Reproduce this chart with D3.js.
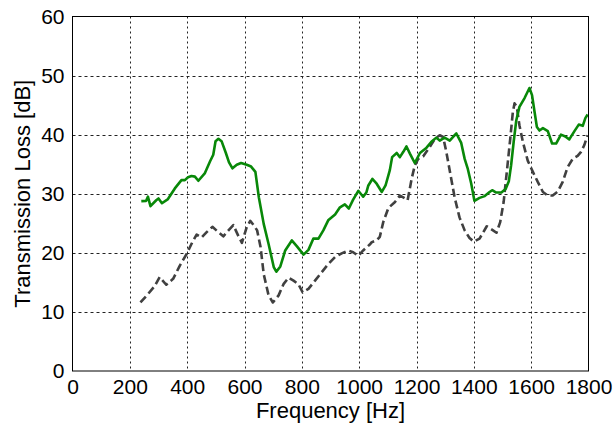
<!DOCTYPE html>
<html><head><meta charset="utf-8">
<script src="https://cdn.jsdelivr.net/npm/d3@7"></script>
<style>
html,body{margin:0;padding:0;background:#fff;}
text{font-family:Arial,"Liberation Sans",sans-serif;fill:#000;}
</style></head>
<body><svg id="chart" width="614" height="427"></svg>
<script>
const xTicks = [0,200,400,600,800,1000,1200,1400,1600,1800];
const yTicks = [0,10,20,30,40,50,60];
const xLabel = "Frequency [Hz]";
const yLabel = "Transmission Loss [dB]";

const greenFreq = [240,257,263,272,292,300,312,333,357,380,392,403,415,427,439,462,480,491,499,509,520,535,546,558,573,588,608,623,638,650,667,684,702,711,725,742,765,783,806,823,840,858,875,892,916,933,950,964,979,997,1014,1025,1032,1046,1061,1079,1092,1107,1115,1131,1142,1154,1165,1177,1194,1212,1235,1252,1269,1281,1298,1316,1327,1339,1356,1368,1379,1391,1402,1420,1438,1455,1464,1478,1496,1511,1522,1530,1539,1548,1559,1577,1594,1603,1612,1620,1629,1641,1658,1673,1687,1704,1719,1733,1751,1766,1780,1789,1797];
const greenTL = [28.75,28.8,29.5,27.9,28.9,29.2,28.4,29.1,30.9,32.3,32.3,32.8,33.0,32.9,32.2,33.5,35.5,36.6,38.9,39.3,38.9,36.9,35.3,34.3,34.9,35.2,34.9,34.6,33.7,29.4,24.9,21.5,17.6,16.8,17.7,20.4,22.1,21.1,19.7,20.5,22.4,22.4,23.8,25.5,26.5,27.7,28.2,27.5,29.0,30.5,29.5,30.2,31.4,32.5,31.7,30.3,31.4,34.0,36.2,36.9,36.2,37.1,38.0,36.8,35.2,36.9,37.8,38.8,39.5,39.0,39.5,39.0,39.6,40.2,38.6,35.9,34.2,31.7,28.8,29.3,29.6,30.3,30.6,30.2,30.2,30.8,32.1,34.8,38.8,42.4,44.7,46.2,47.9,46.7,43.8,41.3,40.7,41.1,40.6,38.5,38.5,40.0,39.7,39.2,40.6,41.7,41.5,42.8,43.4];

const grayFreq = [237,263,287,304,327,351,374,398,415,433,450,468,488,509,526,544,561,579,591,608,620,635,644,656,667,684,699,719,736,754,771,788,803,823,846,869,892,916,939,962,979,997,1014,1037,1044,1061,1072,1084,1102,1125,1142,1157,1169,1183,1194,1206,1223,1246,1264,1281,1293,1304,1319,1333,1350,1368,1385,1400,1420,1445,1467,1479,1492,1504,1515,1527,1536,1542,1550,1559,1571,1588,1606,1623,1641,1658,1675,1693,1710,1727,1745,1762,1774,1785,1797];
const grayTL = [11.6,13.0,14.4,15.9,14.6,15.6,17.8,19.8,21.5,23.1,22.6,23.5,24.4,23.5,22.8,23.8,24.7,22.8,21.7,24.4,25.4,24.5,23.8,21.0,16.4,12.8,11.6,12.8,14.7,15.8,15.3,14.7,13.3,13.9,15.3,16.7,18.1,19.3,19.9,20.4,20.1,19.5,20.4,21.4,21.8,22.1,22.7,25.2,27.6,28.6,29.7,29.3,28.9,32.5,34.8,35.9,36.3,37.9,39.3,39.9,39.6,37.1,33.1,29.4,26.0,23.8,22.5,21.9,22.4,24.5,23.8,23.4,25.2,28.6,33.7,39.3,43.8,45.3,44.7,41.6,38.8,35.6,33.7,32.0,30.3,29.7,29.7,30.4,32.0,34.5,35.9,36.4,37.1,38.2,39.9];

const svg = d3.select("#chart");
const L = 72.5, R = 588.5, T = 16.5, B = 371;
const x = d3.scaleLinear().domain([0,1800]).range([L,R]);
const y = d3.scaleLinear().domain([0,60]).range([B,T]);

// grid
const g = svg.append("g");
g.selectAll("line.vg").data(xTicks.slice(1,-1)).join("line")
  .attr("x1",d=>Math.round(x(d))+0.5).attr("x2",d=>Math.round(x(d))+0.5)
  .attr("y1",T).attr("y2",B)
  .attr("stroke","#222").attr("stroke-width",1).attr("stroke-dasharray","2,3");
g.selectAll("line.hg").data(yTicks.slice(1,-1)).join("line")
  .attr("y1",d=>Math.round(y(d))+0.5).attr("y2",d=>Math.round(y(d))+0.5)
  .attr("x1",L).attr("x2",R)
  .attr("stroke","#222").attr("stroke-width",1).attr("stroke-dasharray","3,3");

// lines
const lineG = d3.line().x(d=>x(d[0])).y(d=>y(d[1])).curve(d3.curveLinear);
svg.append("path").datum(grayFreq.map((f,i)=>[f,grayTL[i]]))
  .attr("d",lineG).attr("fill","none").attr("stroke","#404040")
  .attr("stroke-width",2.6).attr("stroke-dasharray","8,4").attr("stroke-linejoin","round");
svg.append("path").datum(greenFreq.map((f,i)=>[f,greenTL[i]]))
  .attr("d",lineG).attr("fill","none").attr("stroke","#088808")
  .attr("stroke-width",2.6).attr("stroke-linejoin","round");

// frame
svg.append("rect").attr("x",L).attr("y",T).attr("width",R-L).attr("height",B-T)
  .attr("fill","none").attr("stroke","#000").attr("stroke-width",1);

// axes
const xAxis = d3.axisBottom(x).tickValues(xTicks).tickSize(0).tickPadding(8).tickFormat(d3.format("d"));
const gx = svg.append("g").attr("transform",`translate(0,${B})`).call(xAxis);
gx.select(".domain").remove();
gx.selectAll("text").attr("font-size",21).attr("fill","#000").attr("dy","0.71em");

const yAxis = d3.axisLeft(y).tickValues(yTicks).tickSize(0).tickPadding(8).tickFormat(d3.format("d"));
const gy = svg.append("g").attr("transform",`translate(${L},0)`).call(yAxis);
gy.select(".domain").remove();
gy.selectAll("text").attr("font-size",21).attr("fill","#000");

svg.append("text").attr("x",(L+R)/2).attr("y",418).attr("text-anchor","middle")
  .attr("font-size",22).text(xLabel);
svg.append("text").attr("transform",`translate(30,${(T+B)/2}) rotate(-90)`)
  .attr("text-anchor","middle").attr("font-size",22).text(yLabel);
</script></body></html>
